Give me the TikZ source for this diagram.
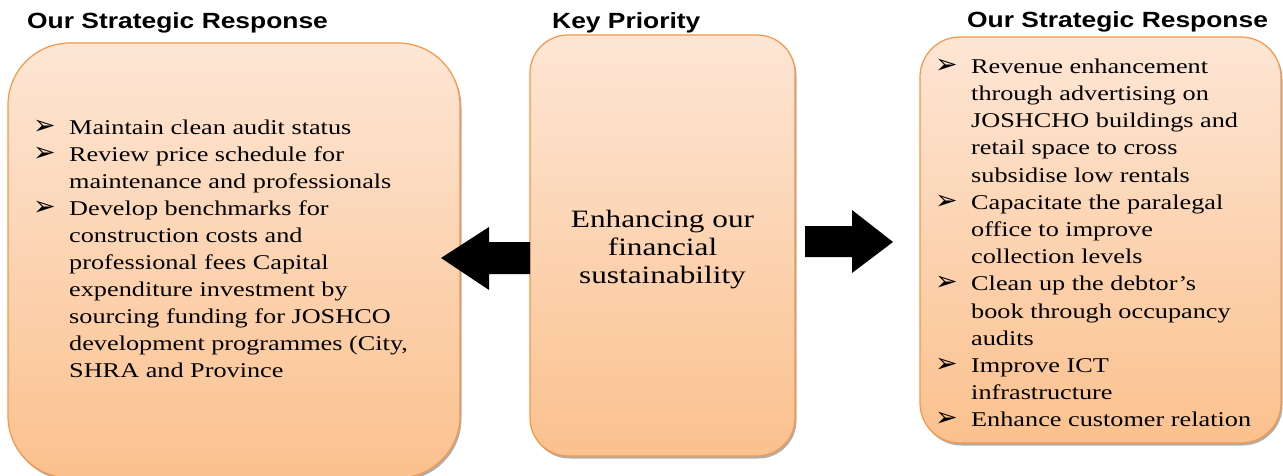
\documentclass[tikz,border=0pt]{standalone}
\usepackage{fontspec}
\setmainfont{Liberation Serif}[FakeStretch=1.25]
\newfontfamily\headfont{Liberation Sans}[FakeStretch=1.2]
\newfontfamily\bulletfont{DejaVu Sans}
\usetikzlibrary{shadows}

\definecolor{boxline}{HTML}{F79646}
\definecolor{boxtop}{HTML}{FDE6D5}
\definecolor{boxbottom}{HTML}{FBC18E}

\newcommand{\bitem}{\makebox[36pt][l]{\bulletfont\fontsize{27}{27}\selectfont ➢}}
\newcommand{\bcont}{\hspace*{36pt}}

\begin{document}
\begin{tikzpicture}[x=1pt, y=1pt,
    panel/.style={draw=boxline, line width=1.2pt, top color=boxtop, bottom color=boxbottom,
        drop shadow={shadow xshift=1.5pt, shadow yshift=-2.5pt, fill=black!45, opacity=0.7},
        inner sep=0pt, outer sep=0pt},
    heading/.style={font=\headfont\bfseries\fontsize{22}{26}\selectfont, anchor=base west, inner sep=0pt},
    listtext/.style={font=\fontsize{21}{27}\selectfont, align=left, anchor=north west, inner sep=0pt},
    blockarrow/.style={fill=black}]
                \useasboundingbox (0,0) rectangle (1283,475);
                % the three panels
                \node[panel, rounded corners=62pt, minimum width=452pt, minimum height=435pt] (resp1) at (234,214.5) {};
                \node[panel, rounded corners=38pt, minimum width=265pt, minimum height=421pt] (prio) at (662.5,229.5) {};
                \node[panel, rounded corners=40pt, minimum width=361pt, minimum height=406pt] (resp2) at (1100.5,235) {};
                % headings
                \node[heading] (head1) at (27,446) {Our Strategic Response};
                \node[heading] (head2) at (552,446) {Key Priority};
                \node[heading] (head3) at (967,447) {Our Strategic Response};
                % key priority
                \node[font=\fontsize{25}{28}\selectfont, align=center, anchor=north, inner sep=0pt] (prio text) at (662.5,267.6)
                    {\strut Enhancing our\\ financial\\ sustainability};
                % left list
                \node[listtext] (list1) at (33,359.9) {\strut\bitem Maintain clean audit status\\
                    \bitem Review price schedule for\\
                    \bcont maintenance and professionals\\
                    \bitem Develop benchmarks for\\
                    \bcont construction costs and\\
                    \bcont professional fees Capital\\
                    \bcont expenditure investment by\\
                    \bcont sourcing funding for JOSHCO\\
                    \bcont development programmes (City,\\
                    \bcont SHRA and Province};
                % right list
                \node[listtext, font=\fontsize{21}{27.2}\selectfont] (list2) at (935,421) {\strut\bitem Revenue enhancement\\
                    \bcont through advertising on\\
                    \bcont JOSHCHO buildings and\\
                    \bcont retail space to cross\\
                    \bcont subsidise low rentals\\
                    \bitem Capacitate the paralegal\\
                    \bcont office to improve\\
                    \bcont collection levels\\
                    \bitem Clean up the debtor’s\\
                    \bcont book through occupancy\\
                    \bcont audits\\
                    \bitem Improve ICT\\
                    \bcont infrastructure\\
                    \bitem Enhance customer relation};
                % block arrows out of the key priority
                \fill[blockarrow] (prio.west |- 0,233) -- (489,233) -- (489,248) -- (441,217)
                    -- (489,185) -- (489,201) -- (prio.west |- 0,201) -- cycle;
                \fill[blockarrow] (805,249) -- (852,249) -- (852,265) -- (893,233)
                    -- (852,202) -- (852,218) -- (805,218) -- cycle;
\end{tikzpicture}
\end{document}
